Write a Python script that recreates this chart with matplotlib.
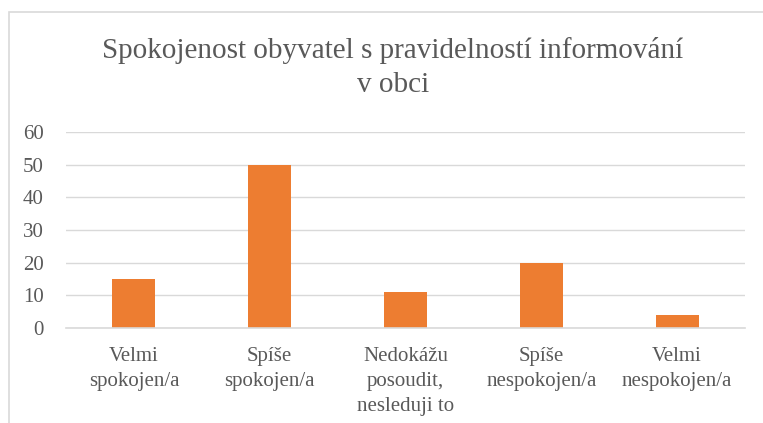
import matplotlib.pyplot as plt
from matplotlib.patches import Rectangle

categories = ["Velmi\nspokojen/a", "Spíše\nspokojen/a", "Nedokážu\nposoudit,\nnesleduji to",
              "Spíše\nnespokojen/a", "Velmi\nnespokojen/a"]
values = [15, 50, 11, 20, 4]
yticks = [0, 10, 20, 30, 40, 50, 60]

plt.rcParams['font.family'] = ['Liberation Serif', 'DejaVu Serif']
text_col = '#595959'

fig = plt.figure(figsize=(7.63, 4.23), dpi=100)
ax = fig.add_axes([66 / 763, 1 - 328 / 423, (745 - 66) / 763, (328 - 132) / 423])

# chart border (only left/top visible in the crop)
fig.patches.append(Rectangle((9 / 763, -0.1), 1.2, 1 - 12 / 423 + 0.1, transform=fig.transFigure,
                             fill=False, edgecolor='#D9D9D9', linewidth=1.2))

x = range(len(categories))
ax.bar(x, values, width=0.317, color='#ED7D31', zorder=3)
ax.set_xlim(-0.5, len(categories) - 0.5)
ax.set_ylim(0, 60)
ax.set_yticks(yticks)
ax.set_xticks(list(x))
ax.set_xticklabels(categories, fontsize=15, color=text_col, linespacing=1.4)
ax.tick_params(axis='y', labelsize=15, labelcolor=text_col, length=0, pad=16)
ax.tick_params(axis='x', length=0, pad=14)
ax.grid(axis='y', color='#D9D9D9', linewidth=1, zorder=0)
for s in ['top', 'right', 'left']:
    ax.spines[s].set_visible(False)
ax.spines['bottom'].set_color('#D9D9D9')
ax.spines['bottom'].set_linewidth(1.2)
ax.spines['bottom'].set_zorder(4)

fig.text(0.515, 1 - 68 / 423, "Spokojenost obyvatel s pravidelností informování\nv obci",
         ha='center', va='center', fontsize=21, color=text_col, linespacing=1.4)

fig.savefig('out.png', dpi=100)
